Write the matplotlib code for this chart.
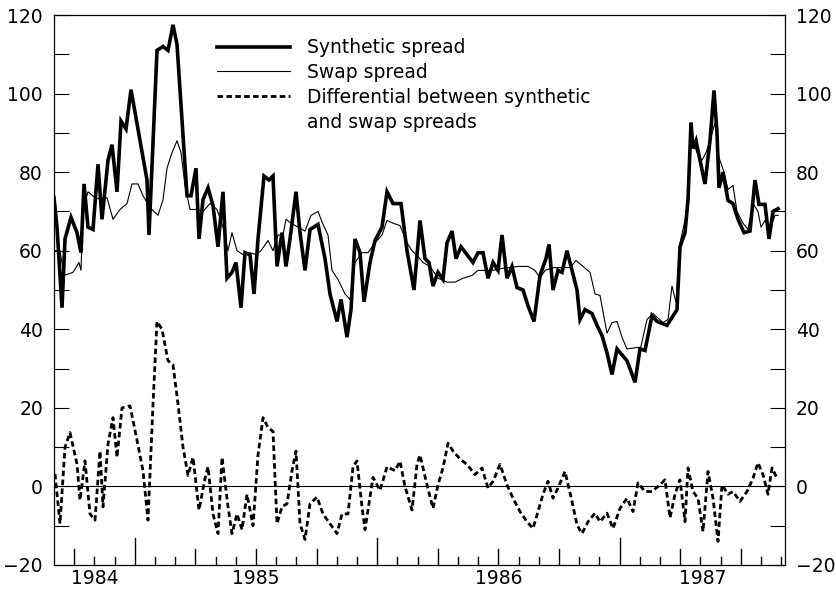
import matplotlib
matplotlib.use('Agg')
import matplotlib.pyplot as plt
from matplotlib.lines import Line2D
import numpy as np

plt.rcParams['font.family'] = ['DejaVu Sans']

# observation number (weekly), values in basis points
syn_t = [0, 0.75, 2, 2.75, 4.25, 5.75, 6.75, 7.5, 8.5, 9.75, 11, 12, 13.5, 14.5, 15.75, 16.75, 18, 19.25,
         23.25, 23.75, 25.75, 27.25, 28.5, 29.75, 30.75, 33.25, 34.25, 35.5, 36.25, 37.25, 38.5, 39.75, 41,
         42.25, 43.25, 44.5, 45.5, 46.75, 47.75, 49, 50, 51, 52.5, 53.75, 54.75, 55.75, 57, 58, 59, 60.5,
         61.5, 62.75, 64, 66, 67.75, 69, 70.75, 71.75, 73.25, 74.25, 75.25, 76.5, 77.5, 79, 80.25, 82,
         83.25, 84.75, 86.75, 88.25, 90, 91.5, 92.75, 93.75, 94.75, 96, 97.25, 98.25, 99.5, 100.5, 101.75,
         104.75, 106, 107.25, 108.5, 109.75, 111, 112, 113.25, 114.5, 115.75, 117.25, 118.5, 120, 121.5,
         123, 123.75, 124.75, 126, 127, 128.25, 129.5, 130.75, 131.5, 132.75, 134.5, 135.75, 137, 138.25,
         139.5, 140.75, 143.25, 145.25, 146.5, 147.75, 149.5, 150.75, 153.25, 155.75, 156.5, 157.75, 158.5,
         159.25, 159.75, 160.5, 161.5, 162.75, 164, 165, 165.75, 166.25, 167.25, 168.5, 169.75, 171, 172.5,
         174, 175.25, 176.25, 177.75, 178.75, 179.75, 181]
syn_v = [73.5, 66, 45.5, 63, 68.5, 64.6, 59.5, 77, 66, 65.4, 82, 68, 83, 87, 75, 93, 91, 101,
         78, 64, 111, 112, 111, 117.5, 112.5, 74, 74, 81, 63, 73, 76, 71.5, 61,
         75, 53, 54.5, 57, 45.5, 59.5, 59, 49, 63, 79, 78, 79, 56, 64.6, 56, 63, 75,
         64.6, 55, 65.4, 66.7, 58, 49, 42, 47.6, 38, 45, 63, 59.5, 47, 57, 62.6, 66,
         75, 72, 72, 60, 50, 67.7, 58, 57, 51, 54.5, 52.7, 62, 65, 58, 61,
         57, 59.5, 59.5, 53, 57, 55, 64, 53, 56, 50.6, 50, 46, 42, 53.7,
         58, 61.6, 50, 55, 54.5, 60, 55, 50, 42.5, 45, 44, 41, 38.4, 34,
         28.5, 35, 32, 26.5, 35, 34.6, 43.5, 42, 41, 45, 61, 64.6, 73,
         92.6, 86, 88, 83, 77, 88, 100.8, 90, 76, 80, 72.8, 72, 68, 64.6,
         65, 78, 71.8, 71.8, 63, 70, 70.7]

swap_t = [0, 1.5, 2.5, 4.75, 6.25, 6.75, 7.25, 8.5, 10.25, 12, 13.25, 14.75, 16.5, 18.25, 19.5, 21,
          22.25, 24, 26, 27.25, 28.25, 29.5, 30.75, 31.75, 32.75, 34, 35.75, 37.25, 39, 40.75, 42.25,
          43.5, 44.5, 45.75, 47.25, 49, 50.5, 51.75, 53.5, 54.75, 56, 57.25, 58, 59.25, 61, 62.75,
          64.25, 66, 67.25, 68.5, 69.5, 71, 72.75, 74, 75.25, 77, 78.5, 80.25, 82, 83.25, 84.75,
          86.5, 88.25, 89.5, 90.75, 92.25, 94, 96, 98.25, 100.25, 102.25, 104.5, 106, 107.75, 109.75,
          112, 114, 116, 118.5, 120.25, 121.5, 122.75, 124.75, 127, 129, 130.5, 132.25, 134, 135.25,
          136.5, 138.25, 139.5, 140.75, 142, 143.25, 146, 146.5, 148.25, 149.75, 152.25, 153.5,
          154.5, 155.5, 156.5, 158.25, 159.25, 160.75, 162, 163, 164, 165.25, 166.25, 167.5, 168.5,
          169.75, 170.75, 172.25, 173.5, 174.75, 176, 176.75, 177.75, 179, 180.25, 181]
swap_v = [60, 60, 53.7, 54.5, 57, 55, 70.5, 75, 73.5, 73, 73.5, 68, 70.5, 72, 77, 77,
          74, 71, 69, 73, 81, 85, 88, 85, 76.5, 70.5, 70.5, 70, 72, 70.5, 66,
          60, 64.6, 60, 59, 59.5, 59, 60, 62.6, 60, 64, 64, 68, 67, 66, 65,
          69, 70, 66.7, 64, 55, 52.7, 49, 47.6, 57, 59.5, 59.5, 62, 64, 67.7, 67,
          66.4, 62, 60, 58.8, 57, 56, 53, 52, 52, 53, 53.7, 55, 55, 55,
          55.5, 55.7, 56, 56, 55, 53, 55, 55.7, 55.7, 55.7, 57.5, 56, 54.5, 49,
          48.6, 39, 41.7, 42, 38, 35, 35.4, 34.6, 42.5, 44, 41.7, 42.5,
          51, 46.8, 62, 70, 89, 85, 83, 85, 88, 92.6, 83.7, 80, 75.6,
          76.6, 70, 67, 65.4, 72, 70, 66, 67.7, 65.4, 69, 69]

diff_t = [0.25, 1.5, 2.75, 4, 5.75, 6.5, 7.75, 9, 10.25, 11.5, 12.25, 13.5, 14.75, 15.75, 17, 19, 20.75,
          22.25, 23.5, 24.75, 25.75, 27, 28.5, 29.75, 31, 32.25, 33.5, 34.75, 36.25, 37.75, 38.5, 39.75,
          41, 42, 43.5, 44.5, 45.75, 47, 48.25, 49.75, 51, 52.25, 53.5, 54.75, 55.75, 57, 58.25, 59.5,
          60.5, 61.5, 62.75, 64, 65.75, 67.25, 69, 70.75, 72, 73.5, 74.75, 75.75, 77, 77.75, 78.5, 79.75,
          81.5, 83.25, 85.25, 86.5, 87.75, 89.5, 90.75, 91.5, 93.25, 94.75, 96, 97.25, 98.5, 99.75,
          101.5, 103.25, 105.25, 107, 108.5, 109.75, 111.5, 113.25, 114.75, 116.5, 118.25, 119.75,
          120.75, 122.25, 123.5, 124.75, 126, 127.75, 129.5, 130.75, 132, 133.5, 135.25, 136.5, 138.25,
          139.75, 141.5, 143.25, 144.75, 146, 147.75, 149.5, 151.5, 152.75, 154, 155.25, 156.5, 157.75,
          158.5, 159.75, 161, 162.25, 163.5, 164.75, 166, 167, 168.5, 169.75, 171.5, 173.25, 174.75,
          176, 177.25, 178.5, 179.5, 180.75]
diff_v = [3.2, -9.5, 10, 13.7, 5.7, -3.5, 6.5, -7, -8.6, 9, -5.2, 10.8, 17.5, 7.4, 20, 20.5, 11.8,
          4, -8.6, 21, 42, 40, 32, 31, 21, 10, 2.8, 7.4, -6, 2, 5, -7,
          -12, 7.4, -5.2, -12, -7, -11, -2, -10, 8, 17.5, 15, 14, -9.5, -5.2, -4.4, 4,
          9, -9.5, -13.5, -4.4, -2.7, -7, -9.5, -12, -7, -7, 5, 6.5, -5.2, -11, -6, 2.3,
          -1, 5, 4, 6.4, 0, -6, 5.6, 8, 0.4, -5.6, 0.4, 4.7, 11, 9,
          7, 5.6, 3, 4.7, -0.4, 1.3, 5.6, 0.4, -3, -6.4, -9, -10.7,
          -7.3, -2, 1.3, -3, -0.4, 3.8, -3.8, -9.8, -12, -9, -6.8, -9, -6.8,
          -10.7, -5.6, -3, -6.4, 0.9, -1.3, -1.3, 0.4, 1.7, -8, -2, 1.7, -9,
          4.7, -1.3, -3, -11.5, 3.8, -3, -14, 0.4, -2, -1.3, -3.8, -1.3, 2.1,
          6, 3, -2, 4.7, 2.1]

# monthly ticks on the time axis (5.05 observations per month)
obs_per_month = 5.05
n_months = 37
quarter_ticks = [1, 7, 10, 13, 19, 22, 25, 31, 34]
year_ticks = [4, 16, 28]
year_labels = ['1984', '1985', '1986', '1987']
year_label_pos = [2, 10, 22, 32.1]

fig = plt.figure(figsize=(8.36, 5.91), dpi=100)
ax = fig.add_axes([0.0646, 0.044, 0.8744, 0.9306])

ax.axhline(0, color='black', lw=0.8)
ax.plot(syn_t, syn_v, color='black', lw=2.6, solid_joinstyle='miter')
ax.plot(swap_t, swap_v, color='black', lw=0.8)
ax.plot(diff_t, diff_v, color='black', lw=2.0, dashes=(2.0, 1.2))

ax.set_xlim(0, 182.75)
ax.set_ylim(-20, 120)

# y axes: ticks every 10, labels every 20, on both sides
ax.set_yticks(np.arange(-20, 121, 20))
ax.set_yticks(np.arange(-10, 120, 20), minor=True)
ax.tick_params(axis='y', which='both', direction='in', length=11, width=0.8,
               left=True, right=True, labelleft=True, labelright=True,
               labelsize=13.5, pad=8)

# x axis: month ticks with taller quarter and year marks
ax.set_xticks([])
ax.set_xticks([], minor=True)
for m in range(1, n_months):
    if m * obs_per_month >= 182.75:
        break
    if m in year_ticks:
        h = 27
    elif m in quarter_ticks:
        h = 16
    else:
        h = 8
    ax.plot([m * obs_per_month, m * obs_per_month], [-20, -20 + h * 140 / 550],
            color='black', lw=1.0, clip_on=False)
for lab, pos in zip(year_labels, year_label_pos):
    ax.text(pos * obs_per_month, -21.0, lab, ha='center', va='top', fontsize=13.5)

for s in ax.spines.values():
    s.set_linewidth(0.9)

handles = [Line2D([], [], color='black', lw=2.6),
           Line2D([], [], color='black', lw=0.8),
           Line2D([], [], color='black', lw=2.0, dashes=(2.0, 1.2)),
           Line2D([], [], color='none')]
labels = ['Synthetic spread', 'Swap spread', 'Differential between synthetic', 'and swap spreads']
ax.legend(handles, labels, loc='upper left', bbox_to_anchor=(0.223, 0.958), frameon=False,
          fontsize=13.5, handlelength=3.9, handletextpad=0.9, labelspacing=0.31,
          borderpad=0, borderaxespad=0)

fig.savefig('out.png', dpi=100)
